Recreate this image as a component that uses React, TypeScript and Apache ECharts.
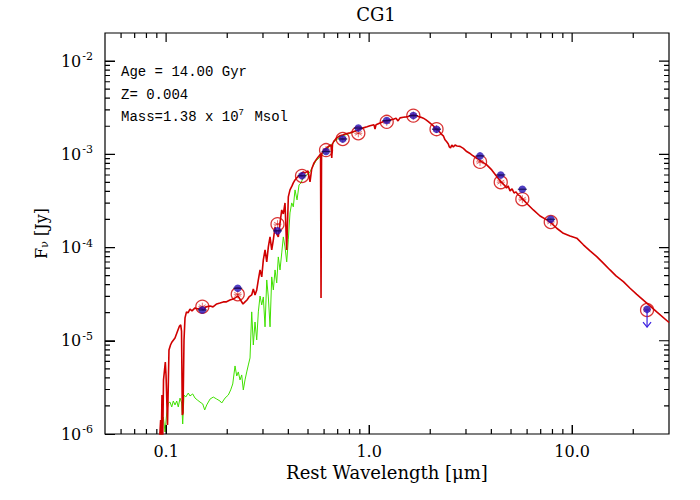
import React, { useEffect, useRef } from 'react';
import * as echarts from 'echarts';

// Model spectrum (red): rest wavelength [µm], flux [Jy]
const modelWave = [
  0.0928, 0.0940, 0.0947, 0.0954, 0.0962, 0.0971, 0.0982, 0.0991, 0.0999, 0.1016,
  0.1033, 0.1051, 0.1069, 0.1106, 0.1145, 0.1164, 0.1180, 0.1191, 0.1202, 0.1211,
  0.1225, 0.1239, 0.1260, 0.1282, 0.1311, 0.1341, 0.1388, 0.1436, 0.1486, 0.1525,
  0.1573, 0.1646, 0.1702, 0.1775, 0.1842, 0.1913, 0.1973, 0.2064, 0.2136, 0.2185,
  0.2260, 0.2325, 0.2392, 0.2447, 0.2503, 0.2561, 0.2640, 0.2689, 0.2741, 0.2795,
  0.2846, 0.2902, 0.2958, 0.3012, 0.3071, 0.3131, 0.3188, 0.3250, 0.3313, 0.3374,
  0.3440, 0.3506, 0.3570, 0.3640, 0.3711, 0.3779, 0.3852, 0.3927, 0.3999, 0.4076,
  0.4170, 0.4232, 0.4315, 0.4398, 0.4566, 0.4741, 0.4833, 0.5000, 0.5115, 0.5214,
  0.5353, 0.5520, 0.5665, 0.5763, 0.5796, 0.5829, 0.5997, 0.6183, 0.6347, 0.6492,
  0.6544, 0.6603, 0.6716, 0.6925, 0.7190, 0.7463, 0.7695, 0.8052, 0.8330, 0.8688,
  0.9020, 0.9363, 0.9765, 1.010, 1.057, 1.069, 1.081, 1.132, 1.171, 1.221,
  1.268, 1.316, 1.357, 1.388, 1.420, 1.474, 1.520, 1.560, 1.608, 1.651,
  1.702, 1.747, 1.802, 1.849, 1.907, 1.957, 2.018, 2.072, 2.129, 2.193,
  2.261, 2.320, 2.365, 2.411, 2.455, 2.484, 2.518, 2.553, 2.599, 2.650,
  2.710, 2.804, 2.911, 3.025, 3.141, 3.202, 3.389, 3.587, 3.796, 4.018,
  4.252, 4.450, 4.672, 4.752, 4.834, 4.945, 5.058, 5.174, 5.292, 5.414,
  5.538, 5.749, 6.085, 6.440, 6.950, 7.497, 7.845, 8.398, 9.052, 9.765,
  10.54, 11.36, 12.25, 13.22, 14.20, 15.37, 16.45, 17.88, 19.29, 20.81,
  23.39, 26.11, 30.01,
];
const modelFlux = [
  8.6e-7, 1.41e-6, 8.6e-7, 2.62e-6, 8.6e-7, 3.80e-6, 4.86e-6, 5.92e-6, 4.30e-6, 1.25e-6,
  7.97e-6, 9.01e-6, 9.71e-6, 1.07e-5, 1.31e-5, 1.44e-5, 1.48e-5, 1.27e-5, 1.60e-6, 1.68e-6,
  1.02e-5, 1.76e-5, 2.04e-5, 1.99e-5, 2.19e-5, 2.09e-5, 2.25e-5, 2.19e-5, 2.25e-5, 2.14e-5,
  2.31e-5, 2.36e-5, 2.31e-5, 2.48e-5, 2.54e-5, 2.61e-5, 2.61e-5, 2.74e-5, 2.81e-5, 2.88e-5,
  3.02e-5, 2.74e-5, 2.48e-5, 2.61e-5, 2.74e-5, 2.95e-5, 3.10e-5, 3.60e-5, 3.10e-5, 3.51e-5,
  4.49e-5, 5.75e-5, 4.84e-5, 7.36e-5, 9.42e-5, 7.01e-5, 1.015e-4, 1.30e-4, 9.42e-5, 1.21e-4,
  1.66e-4, 1.40e-4, 1.30e-4, 1.84e-4, 2.53e-4, 2.29e-4, 3.01e-4, 9.42e-5, 3.49e-4, 4.15e-4,
  4.58e-4, 4.93e-4, 5.31e-4, 5.58e-4, 6.01e-4, 6.48e-4, 6.32e-4, 6.64e-4, 5.06e-4, 6.97e-4,
  8.09e-4, 8.93e-4, 9.61e-4, 1.01e-3, 2.88e-5, 1.01e-3, 1.115e-3, 1.17e-3, 1.23e-3, 1.26e-3,
  9.15e-4, 1.29e-3, 1.39e-3, 1.50e-3, 1.58e-3, 1.62e-3, 1.66e-3, 1.70e-3, 1.74e-3, 1.80e-3,
  1.87e-3, 1.92e-3, 1.97e-3, 2.02e-3, 2.07e-3, 1.87e-3, 2.07e-3, 2.17e-3, 2.23e-3, 2.30e-3,
  2.34e-3, 2.38e-3, 2.43e-3, 2.28e-3, 2.46e-3, 2.50e-3, 2.52e-3, 2.54e-3, 2.62e-3, 2.65e-3,
  2.62e-3, 2.54e-3, 2.49e-3, 2.44e-3, 2.34e-3, 2.24e-3, 2.12e-3, 2.02e-3, 1.87e-3, 1.80e-3,
  1.66e-3, 1.58e-3, 1.43e-3, 1.36e-3, 1.29e-3, 1.20e-3, 1.17e-3, 1.26e-3, 1.20e-3, 1.26e-3,
  1.23e-3, 1.215e-3, 1.157e-3, 1.07e-3, 1.02e-3, 9.85e-4, 9.08e-4, 8.35e-4, 7.70e-4, 6.80e-4,
  5.77e-4, 5.10e-4, 4.58e-4, 4.36e-4, 4.58e-4, 4.05e-4, 4.25e-4, 3.85e-4, 3.95e-4, 3.67e-4,
  3.58e-4, 3.24e-4, 2.86e-4, 2.53e-4, 2.18e-4, 1.98e-4, 1.85e-4, 1.61e-4, 1.42e-4, 1.33e-4,
  1.26e-4, 1.07e-4, 9.19e-5, 7.99e-5, 6.84e-5, 5.75e-5, 4.96e-5, 4.31e-5, 3.66e-5, 3.15e-5,
  2.52e-5, 2.04e-5, 1.57e-5,
];

// Second spectrum (green)
const greenWave = [
  0.0938, 0.0954, 0.0969, 0.0988, 0.1007, 0.1025, 0.1045, 0.1066, 0.1085, 0.1106,
  0.1128, 0.1148, 0.1171, 0.1193, 0.1207, 0.1225, 0.1249, 0.1286, 0.1311, 0.1352,
  0.1388, 0.1424, 0.1469, 0.1515, 0.1549, 0.1585, 0.1646, 0.1708, 0.1775, 0.1842,
  0.1879, 0.1951, 0.2025, 0.2080, 0.2129, 0.2185, 0.2228, 0.2268, 0.2312, 0.2357,
  0.2400, 0.2447, 0.2495, 0.2541, 0.2590, 0.2640, 0.2689, 0.2741, 0.2795, 0.2846,
  0.2902, 0.2958, 0.3012, 0.3071, 0.3131, 0.3188, 0.3250, 0.3313, 0.3374, 0.3440,
  0.3506, 0.3570, 0.3640, 0.3711, 0.3779, 0.3852, 0.3927, 0.3999, 0.4076, 0.4157,
  0.4232, 0.4315, 0.4415, 0.4516, 0.4619, 0.4725, 0.4833, 0.5000, 0.5115, 0.5292,
  0.5476, 0.5729, 0.5997, 0.6273, 0.6640, 0.7190, 0.8052, 0.9020,
];
const greenFlux = [
  8.6e-7, 1.25e-6, 1.52e-6, 1.05e-6, 1.68e-6, 2.15e-6, 2.20e-6, 1.95e-6, 2.26e-6, 2.05e-6,
  2.26e-6, 1.95e-6, 2.43e-6, 2.15e-6, 1.28e-6, 2.62e-6, 2.49e-6, 2.75e-6, 2.56e-6, 2.69e-6,
  2.43e-6, 2.32e-6, 2.20e-6, 2.10e-6, 1.81e-6, 2.05e-6, 2.37e-6, 2.49e-6, 2.37e-6, 2.26e-6,
  2.15e-6, 2.43e-6, 2.62e-6, 2.97e-6, 3.44e-6, 5.37e-6, 4.19e-6, 4.63e-6, 3.80e-6, 4.30e-6,
  2.97e-6, 3.80e-6, 4.63e-6, 5.50e-6, 6.54e-6, 2.04e-5, 9.01e-6, 1.59e-5, 1.02e-5, 2.04e-5,
  3.02e-5, 2.42e-5, 2.95e-5, 1.41e-5, 4.49e-5, 2.95e-5, 1.41e-5, 4.84e-5, 3.51e-5, 5.75e-5,
  4.17e-5, 7.93e-5, 5.75e-5, 8.75e-5, 1.30e-4, 1.015e-4, 7.01e-5, 1.21e-4, 2.35e-4, 3.01e-4,
  2.73e-4, 4.15e-4, 3.24e-4, 4.70e-4, 4.93e-4, 5.58e-4, 5.86e-4, 6.16e-4, 6.48e-4, 7.51e-4,
  8.50e-4, 9.38e-4, 1.06e-3, 1.17e-3, 1.33e-3, 1.54e-3, 1.68e-3, 1.85e-3,
];

// Photometric bands
const bandWave = [0.1508, 0.2253, 0.3538, 0.4672, 0.6134, 0.7413, 0.8847, 1.221, 1.651, 2.148, 3.518, 4.450, 5.685, 7.845, 23.39];
const obsFlux = [2.14e-5, 3.66e-5, 1.51e-4, 5.89e-4, 1.07e-3, 1.46e-3, 1.91e-3, 2.30e-3, 2.60e-3, 1.86e-3, 9.61e-4, 6.01e-4, 4.22e-4, 2.01e-4, 2.18e-5];
const modelBandFlux = [2.32e-5, 3.15e-5, 1.78e-4, 5.86e-4, 1.11e-3, 1.46e-3, 1.68e-3, 2.23e-3, 2.60e-3, 1.86e-3, 8.29e-4, 5.02e-4, 3.30e-4, 1.88e-4, 2.14e-5];
// Upper limit: [wavelength, flux, arrow tip flux]
const upperLimits = [[23.39, 2.18e-5, 1.40e-5]];

// Axis ranges, tick values and tick labels
const xRange = [0.05, 30];
const yRange = [1e-6, 2e-2];
const xDecades = [0.01, 0.1, 1, 10];
const yDecades = [1e-6, 1e-5, 1e-4, 1e-3, 1e-2];
const tickMultipliers = [1, 2, 3, 4, 5, 6, 7, 8, 9];
const xTickLabels: Record<string, string> = { '-1': '0.1', '0': '1.0', '1': '10.0' };
// tick lengths as log-axis factors (≈ 9–10 px major, 5 px minor)
const xTickFactor = { major: 1.12, minor: 1.058 };
const yTickFactor = { major: 1.25, minor: 1.132 };

const RED = '#d00000';
const GREEN = '#40e000';
const BLUE = '#2410b4';
const FONT = 'DejaVu Serif';
const MONO = 'Liberation Mono';
const NB = '\u00a0';

const isPow10 = (v: number) => Math.abs(Math.log10(v) - Math.round(Math.log10(v))) < 1e-6;

function buildTicks(decades: number[], range: number[]) {
  const out: [number, boolean][] = [];
  decades.forEach((d) =>
    tickMultipliers.forEach((m) => {
      const v = d * m;
      if (v > range[0] * 1.001 && v < range[1] * 0.999) out.push([v, m === 1]);
    })
  );
  return out;
}

export default function App() {
  const ref = useRef<HTMLDivElement>(null);
  useEffect(() => {
    if (!ref.current) return;
    const chart = echarts.init(ref.current, undefined, { renderer: 'svg' });

    // tick segments on all four sides, separated by null gaps
    const tickSegs: any[] = [];
    buildTicks(xDecades, xRange).forEach(([v, major]) => {
      const f = major ? yTickFactor.major : yTickFactor.minor;
      tickSegs.push([v, yRange[0]], [v, yRange[0] * f], null, [v, yRange[1]], [v, yRange[1] / f], null);
    });
    buildTicks(yDecades, yRange).forEach(([v, major]) => {
      const f = major ? xTickFactor.major : xTickFactor.minor;
      tickSegs.push([xRange[0], v], [xRange[0] * f, v], null, [xRange[1], v], [xRange[1] / f, v], null);
    });

    const option: any = {
      animation: false,
      backgroundColor: '#fff',
      textStyle: { fontFamily: FONT },
      grid: { left: 105, right: 31, top: 33, bottom: 66, show: true, borderColor: '#000', borderWidth: 1.2 },
      xAxis: {
        type: 'log', logBase: 10, min: xRange[0], max: xRange[1],
        name: 'Rest Wavelength [μm]', nameLocation: 'middle', nameGap: 29,
        nameTextStyle: { fontSize: 18, color: '#000', fontFamily: FONT },
        axisLine: { show: false }, splitLine: { show: false },
        axisTick: { show: true, inside: true, length: 9, lineStyle: { color: '#000', width: 1 } },
        axisLabel: {
          margin: 9, fontSize: 16, color: '#000', fontFamily: FONT,
          showMinLabel: false, showMaxLabel: false,
          formatter: (v: number) => (isPow10(v) ? xTickLabels[String(Math.round(Math.log10(v)))] ?? '' : ''),
        },
      },
      yAxis: {
        type: 'log', logBase: 10, min: yRange[0], max: yRange[1],
        name: '{n|F}{sub|ν}{n| [Jy]}', nameLocation: 'middle', nameGap: 55,
        nameTextStyle: {
          color: '#000', fontFamily: FONT,
          rich: {
            n: { fontSize: 16, fontFamily: FONT, color: '#000' },
            sub: { fontSize: 11, fontFamily: FONT, color: '#000', padding: [6, 0, 0, 0] },
          },
        },
        axisLine: { show: false }, splitLine: { show: false },
        axisTick: { show: true, inside: true, length: 10, lineStyle: { color: '#000', width: 1 } },
        axisLabel: {
          margin: 12, color: '#000', fontFamily: FONT,
          showMaxLabel: false,
          formatter: (v: number) => (isPow10(v) ? `{b|10}{s|${Math.round(Math.log10(v))}}` : ''),
          rich: {
            b: { fontSize: 16, fontFamily: FONT, color: '#000' },
            s: { fontSize: 11, fontFamily: FONT, color: '#000', padding: [0, 0, 9, 1] },
          },
        },
      },
      graphic: [
        { type: 'text', x: 376, y: 14, style: { text: 'CG1', font: `18px "${FONT}"`, fill: '#000', align: 'center', verticalAlign: 'middle', textAlign: 'center', textVerticalAlign: 'middle' } },
        { type: 'text', x: 121, y: 72, style: { text: `Age = 14.00 Gyr`, font: `14px "${MONO}"`, fill: '#000', verticalAlign: 'middle', textVerticalAlign: 'middle' } },
        { type: 'text', x: 121, y: 95, style: { text: `Z=${NB}0.004`, font: `14px "${MONO}"`, fill: '#000', verticalAlign: 'middle', textVerticalAlign: 'middle' } },
        {
          type: 'text', x: 121, y: 117,
          style: {
            text: '{m|Mass=1.38 x 10}{s|7}{m| Msol}', verticalAlign: 'middle', textVerticalAlign: 'middle',
            rich: {
              m: { fontSize: 14, fontFamily: MONO, fill: '#000', color: '#000' },
              s: { fontSize: 9, fontFamily: MONO, fill: '#000', color: '#000', padding: [0, 2, 8, 0] },
            },
          },
        },
      ],
      series: [
        {
          type: 'line', data: greenWave.map((w, i) => [w, greenFlux[i]]), showSymbol: false, symbol: 'none',
          lineStyle: { color: GREEN, width: 1 }, clip: true, z: 2,
        },
        {
          type: 'line', data: modelWave.map((w, i) => [w, modelFlux[i]]), showSymbol: false, symbol: 'none',
          lineStyle: { color: RED, width: 1.6 }, clip: true, z: 3,
        },
        {
          type: 'scatter', data: bandWave.map((w, i) => [w, modelBandFlux[i]]), symbol: 'circle', symbolSize: 13,
          itemStyle: { color: 'transparent', borderColor: RED, borderWidth: 1.3 }, z: 4,
        },
        {
          type: 'scatter', data: bandWave.map((w, i) => [w, modelBandFlux[i]]),
          symbol: 'path://M10 0L10 20M1.34 5L18.66 15M1.34 15L18.66 5M0 10L20 10', symbolSize: 8,
          itemStyle: { color: 'transparent', borderColor: RED, borderWidth: 0.7 }, z: 4,
        },
        {
          type: 'scatter', data: bandWave.map((w, i) => [w, obsFlux[i]]), symbol: 'circle', symbolSize: 7.5,
          itemStyle: { color: BLUE }, z: 5,
        },
        {
          type: 'scatter', data: bandWave.slice(0, 14).map((w, i) => [w, obsFlux[i]]), symbol: 'rect', symbolSize: [9, 1.2],
          itemStyle: { color: '#10084a' }, z: 6,
        },
        {
          type: 'custom', data: upperLimits, z: 6, silent: true,
          renderItem: (params: any, api: any) => {
            const p0 = api.coord([api.value(0), api.value(1)]);
            const p1 = api.coord([api.value(0), api.value(2)]);
            return {
              type: 'group',
              children: [
                { type: 'line', shape: { x1: p0[0], y1: p0[1], x2: p1[0], y2: p1[1] }, style: { stroke: '#3a20e0', lineWidth: 1.2 } },
                { type: 'polyline', shape: { points: [[p1[0] - 4, p1[1] - 5], [p1[0], p1[1]], [p1[0] + 4, p1[1] - 5]] }, style: { stroke: '#3a20e0', lineWidth: 1.2, fill: 'none' } },
              ],
            };
          },
        },
        {
          type: 'line', data: tickSegs, showSymbol: false, symbol: 'none', connectNulls: false,
          lineStyle: { color: '#000', width: 1.2 }, clip: false, silent: true, z: 20,
        },
      ],
    };
    chart.setOption(option);
    return () => chart.dispose();
  }, []);
  return <div ref={ref} style={{ position: 'fixed', left: 0, top: 0, width: 700, height: 500 }} />;
}
